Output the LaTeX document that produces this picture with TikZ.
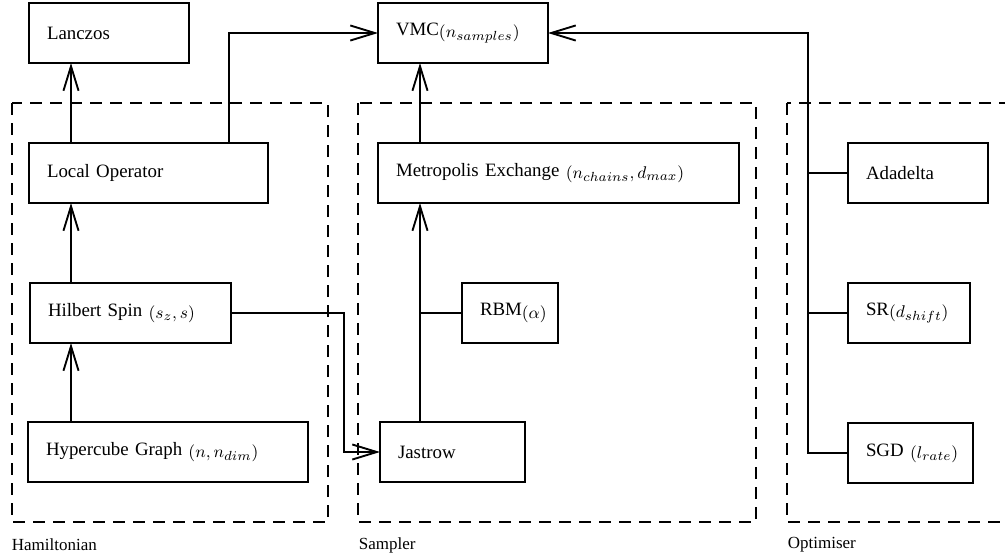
\documentclass[tikz,border=0pt]{standalone}
\usepackage{fontspec}
\setmainfont{Liberation Serif}
\usetikzlibrary{arrows.meta}
% one pixel of the layout grid
\newcommand{\pix}{0.53pt}
% parameters set after a block name
\newcommand{\argsub}[1]{\raisebox{-.25ex}{\fontsize{9.5pt}{11pt}\selectfont$#1$}}
\tikzset{
  blk/.style={draw, anchor=north west, outer sep=0pt,
    minimum height=60*\pix, inner xsep=18*\pix, inner ysep=0pt,
    text width=(#1-36)*\pix, align=left},
  grp/.style={dash pattern=on 6.4pt off 4.2pt},
  link/.style={-{Straight Barb[length=13pt,width=8pt]}},
  grplabel/.style={anchor=west, font=\small, inner sep=0pt}
}

\begin{document}
\begin{tikzpicture}[x=\pix, y=-\pix, line width=1pt]
  \useasboundingbox (0,0) rectangle (1005,556);
  \clip (0,0) rectangle (1005,556);

  % groups
  \draw[grp] (12,103) rectangle (328,522);
  \draw[grp] (358,103) rectangle (756,522);
  \draw[grp] (787,103) rectangle (1030,522);
  \node[grplabel] (hamlabel) at (11,545) {Hamiltonian};
  \node[grplabel] (samplabel) at (358,545) {Sampler};
  \node[grplabel] (optlabel) at (787,545) {Optimiser};

  % blocks
  \node[blk=160] (lanczos) at (29,3) {Lanczos};
  \node[blk=170] (vmc) at (378,3) {VMC\argsub{(n_{samples})}};
  \node[blk=239] (localop) at (29,143) {Local Operator};
  \node[blk=361] (metro) at (378,143) {Metropolis Exchange~\argsub{(n_{chains}, d_{max})}};
  \node[blk=201] (hilbert) at (30,283) {Hilbert Spin~\argsub{(s_z, s)}};
  \node[blk=96] (rbm) at (462,283) {RBM\argsub{(\alpha)}};
  \node[blk=280] (hyper) at (28,422) {Hypercube Graph~\argsub{(n, n_{dim})}};
  \node[blk=145] (jastrow) at (380,422) {Jastrow};
  \node[blk=140] (adadelta) at (848,143) {Adadelta};
  \node[blk=122] (sr) at (848,283) {SR\argsub{(d_{shift})}};
  \node[blk=125] (sgd) at (848,423) {SGD~\argsub{(l_{rate})}};

  % columns for the wires
  \coordinate (hcol) at (71,0);
  \coordinate (hup) at (229,0);
  \coordinate (bend) at (344,0);
  \coordinate (scol) at (420,0);
  \coordinate (ocol) at (808,0);

  \draw[link] (localop.north -| hcol) -- (lanczos.south -| hcol);
  \draw[link] (hilbert.north -| hcol) -- (localop.south -| hcol);
  \draw[link] (hyper.north -| hcol) -- (hilbert.south -| hcol);
  \draw[link] (localop.north -| hup) |- (vmc.west);
  \draw[link] (hilbert.east) -- (hilbert.east -| bend) |- (jastrow.west);

  \draw[link] (metro.north -| scol) -- (vmc.south -| scol);
  \draw[link] (jastrow.north -| scol) -- (metro.south -| scol);
  \draw (rbm.west) -- (rbm.west -| scol);

  \draw[link] (sgd.west) -- (sgd.west -| ocol) |- (vmc.east);
  \draw (adadelta.west) -- (adadelta.west -| ocol);
  \draw (sr.west) -- (sr.west -| ocol);
\end{tikzpicture}
\end{document}
